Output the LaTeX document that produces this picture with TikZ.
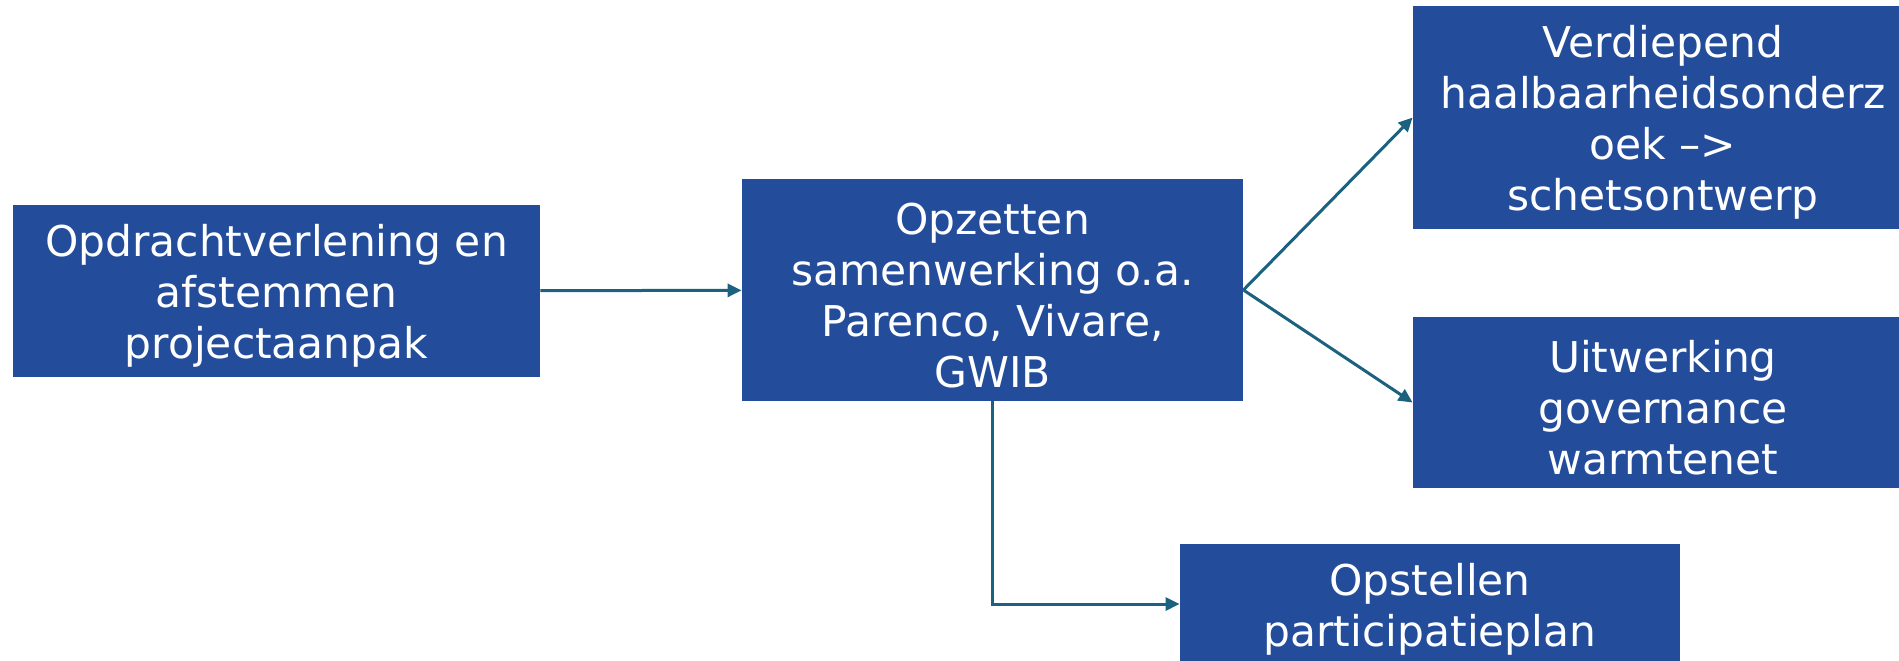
\documentclass[tikz,border=0pt]{standalone}
\usepackage{fontspec}
\setmainfont{DejaVu Sans}
\usepackage{xcolor}
\usetikzlibrary{arrows.meta}
\definecolor{blokblauw}{RGB}{35,76,155}
\definecolor{pijlteal}{RGB}{27,98,128}
\newcommand{\bovenrand}{\rule{0pt}{21pt}}

\begin{document}
\begin{tikzpicture}[x=0.5pt,y=-0.5pt,blok/.style n args={2}{fill=blokblauw,text=white,minimum width=#1*0.5pt,minimum height=#2*0.5pt,inner sep=0pt,align=center,font=\fontsize{21.2}{25.5}\selectfont},pijl/.style={draw=pijlteal,line width=1.5pt,-{Triangle[length=7pt,width=6.5pt]}}]
\useasboundingbox (0,0) rectangle (1899,660);
\node[blok={527}{172}] (opdracht) at (276.5,291) {\bovenrand Opdrachtverlening en\\afstemmen\\projectaanpak};
\node[blok={501}{222}] (samenwerking) at (992.5,290) {\bovenrand Opzetten\\samenwerking o.a.\\Parenco, Vivare,\\GWIB};
\node[blok={500}{223}] (haalbaar) at (1663,117.5) {\bovenrand Verdiepend\\haalbaarheidsonderz\\oek --{}>\\schetsontwerp};
\node[blok={500}{171}] (governance) at (1663,402.5) {\bovenrand Uitwerking\\governance\\warmtenet};
\node[blok={500}{120}] (participatie) at (1430,604) {\bovenrand Opstellen\\participatieplan};
\draw[pijl] (opdracht) -- (samenwerking);
\draw[pijl] (samenwerking.east) -- (haalbaar.west);
\draw[pijl] (samenwerking.east) -- (governance.west);
\draw[pijl] (samenwerking.south) |- (participatie.west);
\end{tikzpicture}
\end{document}
